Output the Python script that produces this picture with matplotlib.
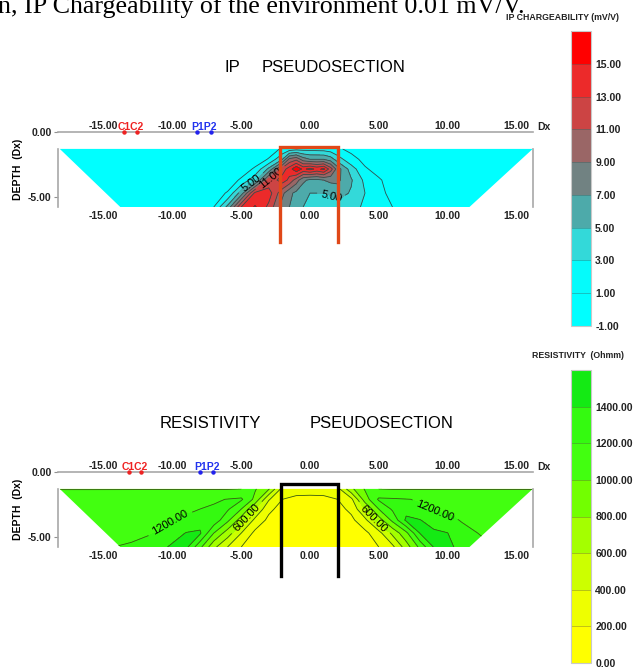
import numpy as np
import matplotlib
matplotlib.use('Agg')
import matplotlib.pyplot as plt
from matplotlib.patches import Polygon

plt.rcParams['font.family'] = ['Liberation Sans', 'DejaVu Sans']

# ---------------- data ----------------
depth_rows = [-1.3, -2.1, -2.85, -3.7, -4.7, -5.77]
section_left = [-18.2, -13.8]    # x of section edge at top / bottom row
section_right = [16.2, 11.6]

x_ticks = [-15, -10, -5, 0, 5, 10, 15]
y_ticks = [0, -5]

# IP chargeability (mV/V)
ip_x = [-19, -15, -11, -8, -7, -6, -5, -4, -3, -2, -1.5, -1, -0.5, 0, 0.5, 1, 1.5, 2, 3, 4, 5, 6, 7, 9, 13, 17]
ip_r1 = [0, 0, 0, 0, 0, 0, 0, 0, 0.3, 1.2, 1.8, 2.2, 2.2, 2.3, 2.2, 2.1, 1.8, 1.3, 0.5, 0.1, 0, 0, 0, 0, 0, 0]
ip_r2 = [0, 0, 0, 0, 0, 0, 0, 0.3, 1.1, 5, 9.5, 10.5, 8, 7, 7, 7, 6, 4, 1.6, 0.5, 0.2, 0, 0, 0, 0, 0]
ip_r3 = [0, 0, 0, 0, 0, 0, 0.3, 1.2, 5.5, 12, 14, 16.6, 14.5, 15.6, 14.5, 15.4, 12, 8, 4, 1.2, 0.4, 0, 0, 0, 0, 0]
ip_r4 = [0, 0, 0, 0, 0, 0.3, 1.2, 4.5, 11.5, 14, 12.5, 10, 7.5, 6.5, 6.5, 7, 7.5, 7.5, 5.2, 2.5, 1.2, 0.3, 0, 0, 0, 0]
ip_r5 = [0, 0, 0, 0, 0.5, 1.1, 6, 13.5, 14, 9.5, 7.5, 6.5, 5.5, 5, 5, 5, 5.2, 5.8, 4.8, 3, 1.5, 0.5, 0, 0, 0, 0]
ip_r6 = [0, 0, 0, 0.2, 1, 5.5, 13, 15.2, 12.5, 8, 7, 6, 5, 4.5, 4, 4, 4, 4.2, 3.8, 2.6, 1.8, 1, 0.3, 0, 0, 0]
ip_levels = [-1, 1, 3, 5, 7, 9, 11, 13, 15, 17]
ip_ticks = [-1, 1, 3, 5, 7, 9, 11, 13, 15]
ip_colors = ['#00ffff', '#05fbfb', '#33d9d9', '#4daaaa', '#718282', '#9a6666',
             '#cc4444', '#ec2a2a', '#ff0000']

# Resistivity (Ohmm)
res_x = [-19, -16, -13, -11, -10, -9, -8, -7, -6, -5, -4, -3, -2, -1, 0, 1, 2, 3, 4, 5, 6, 7, 8, 9, 10, 11, 13, 17]
res_r1 = [990, 990, 990, 990, 990, 990, 990, 990, 990, 1000, 1020, 820, 330, 310, 310, 310, 330, 750, 1020, 1000, 990, 990, 990, 990, 990, 990, 990, 990]
res_r2 = [1130, 1130, 1140, 1150, 1155, 1160, 1170, 1180, 1205, 1230, 950, 420, 200, 140, 130, 140, 200, 350, 900, 1230, 1220, 1205, 1190, 1180, 1175, 1170, 1150, 1140]
res_r3 = [1140, 1140, 1150, 1160, 1170, 1180, 1200, 1220, 1230, 1000, 600, 250, 120, 100, 100, 100, 130, 250, 600, 1000, 1230, 1330, 1215, 1185, 1180, 1175, 1160, 1150]
res_r4 = [1150, 1150, 1160, 1180, 1200, 1220, 1300, 1330, 1050, 700, 350, 150, 80, 60, 60, 60, 80, 150, 350, 700, 1050, 1440, 1410, 1280, 1225, 1195, 1170, 1150]
res_r5 = [1160, 1160, 1170, 1205, 1300, 1410, 1430, 1000, 700, 400, 150, 60, 40, 30, 30, 30, 40, 60, 150, 330, 650, 950, 1410, 1450, 1405, 1230, 1180, 1160]
res_r6 = [1170, 1180, 1215, 1330, 1440, 1450, 1050, 650, 400, 200, 80, 40, 30, 20, 20, 20, 30, 50, 100, 200, 350, 700, 1050, 1410, 1460, 1330, 1210, 1190]
res_levels = [0, 200, 400, 600, 800, 1000, 1200, 1400, 1600]
res_ticks = [0, 200, 400, 600, 800, 1000, 1200, 1400]
res_colors = ['#ffff00', '#eeff00', '#ccff00', '#a4ff00', '#72ff00', '#42ff10',
              '#34fa10', '#14ea14']

# electrodes and body outline
ip_c_x = [-13.5, -12.6]
ip_p_x = [-8.2, -7.2]
res_c_x = [-13.2, -12.3]
res_p_x = [-8.0, -7.05]
ip_body_x = [-2.2, 2.05]
ip_body_z = [-1.15, -8.5]
res_body_x = [-2.1, 2.05]
res_body_z = [-0.92, -8.0]

# ---------------- figure ----------------
W, H = 638, 671
fig = plt.figure(figsize=(W / 100, H / 100), dpi=100)

fig.text(-2 / W, 1 - 13 / H, 'n, IP Chargeability of the environment 0.01 mV/V.',
         family='Liberation Serif', fontsize=18.7, ha='left', va='baseline')


def section(ax, xs, rows, levels, colors, line_color, c_x, p_x, body_x, body_z, body_color):
    V = np.array(rows, dtype=float)
    Z = np.array(depth_rows)
    X = np.array(xs, dtype=float)
    poly = Polygon([(section_left[0], depth_rows[0]), (section_right[0], depth_rows[0]),
                    (section_right[1], depth_rows[-1]), (section_left[1], depth_rows[-1])],
                   closed=True, transform=ax.transData, facecolor='none', edgecolor='none')
    ax.add_patch(poly)
    cf = ax.contourf(X, Z, V, levels=levels, colors=colors)
    cf.set_clip_path(poly)
    lines = {}
    for lv in levels[1:-1]:
        if V.min() < lv < V.max():
            cl = ax.contour(X, Z, V, levels=[lv], colors=line_color, linewidths=0.6)
            cl.set_clip_path(poly)
            lines[lv] = cl
    ax.set_xlim(-18.33, 16.22)
    ax.set_ylim(depth_rows[-1], 0)
    labels = ['%.2f' % t for t in x_ticks]
    ax.set_xticks(x_ticks)
    ax.set_xticklabels(labels)
    ax.tick_params(axis='x', top=False, bottom=False, labeltop=False, labelbottom=True,
                   length=0, labelsize=7.5, pad=3)
    sec = ax.secondary_xaxis('top')
    sec.set_xticks(x_ticks)
    sec.set_xticklabels(labels)
    sec.tick_params(length=0, labelsize=7.5, pad=0.6)
    for s in sec.spines.values():
        s.set_visible(False)
    ax.set_yticks(y_ticks)
    ax.set_yticklabels(['%.2f' % t for t in y_ticks])
    ax.tick_params(axis='y', length=3, width=0.8, color='#909090', labelsize=7.5, pad=1.5)
    for lab in ax.get_xticklabels() + ax.get_yticklabels() + sec.get_xticklabels():
        lab.set_fontweight('bold')
        lab.set_color('#222222')
    for s in ['top', 'left', 'right']:
        ax.spines[s].set_color('#a8a8a8')
        ax.spines[s].set_linewidth(1.2)
    ax.spines['bottom'].set_visible(False)
    ax.spines['left'].set_bounds(depth_rows[-1], depth_rows[0])
    ax.spines['right'].set_bounds(depth_rows[-1], depth_rows[0])
    ax.set_ylabel('DEPTH  (Dx)', fontsize=7.5, fontweight='bold', labelpad=4)
    ax.text(16.55, 0.36, 'Dx', fontsize=7.5, fontweight='bold', ha='left', va='center',
            clip_on=False, color='#222222')
    # electrodes
    ax.plot(c_x, [0, 0], 'o', color='#ee2222', ms=2.2, clip_on=False, zorder=6)
    ax.plot(p_x, [0, 0], 'o', color='#2222ee', ms=2.2, clip_on=False, zorder=6)
    ax.text(np.mean(c_x), 0.36, 'C1C2', color='#ee2222', fontsize=7.5, fontweight='bold',
            ha='center', va='center', clip_on=False)
    ax.text(np.mean(p_x), 0.36, 'P1P2', color='#2233ee', fontsize=7.5, fontweight='bold',
            ha='center', va='center', clip_on=False)
    # body outline
    ax.plot([body_x[0], body_x[0], body_x[1], body_x[1]],
            [body_z[1], body_z[0], body_z[0], body_z[1]],
            color=body_color, lw=2.4, clip_on=False, zorder=7, solid_joinstyle='miter')
    return cf, lines


def label(ax, lines, lv, positions):
    if lv in lines:
        ax.clabel(lines[lv], manual=positions, fmt='%.2f', fontsize=8,
                  colors='black', inline=True)


def colorbar(cf, rect, levels, ticks, title, title_xy):
    cax = fig.add_axes(rect)
    cb = fig.colorbar(cf, cax=cax, ticks=ticks)
    cb.set_ticklabels(['%.2f' % t for t in ticks])
    cax.tick_params(length=0, labelsize=7.5, pad=3)
    for lab in cax.get_yticklabels():
        lab.set_fontweight('bold')
        lab.set_color('#222222')
    cb.outline.set_edgecolor('#c8c8c8')
    cb.outline.set_linewidth(0.8)
    for lv in levels[1:-1]:
        cax.axhline(lv, color='#404040', lw=0.5, alpha=0.45)
    fig.text(title_xy[0] / W, 1 - title_xy[1] / H, title, fontsize=6.3, fontweight='bold',
             ha='center', va='center', color='#222222')


ax_ip = fig.add_axes([58 / W, 1 - 207 / H, 475 / W, 75 / H])
ip_rows = [ip_r1, ip_r2, ip_r3, ip_r4, ip_r5, ip_r6]
cf_ip, lines_ip = section(ax_ip, ip_x, ip_rows, ip_levels, ip_colors, '#2f4f4f',
                         ip_c_x, ip_p_x, ip_body_x, ip_body_z, '#e04818')
label(ax_ip, lines_ip, 5, [(-4.3, -3.9), (1.9, -4.5)])
label(ax_ip, lines_ip, 11, [(-2.9, -3.5)])
fig.text(225 / W, 1 - 68 / H, 'IP', fontsize=12, ha='left', va='center')
fig.text(262 / W, 1 - 68 / H, 'PSEUDOSECTION', fontsize=12, ha='left', va='center')
colorbar(cf_ip, [571 / W, 1 - 326 / H, 20 / W, 295 / H], ip_levels, ip_ticks,
         'IP CHARGEABILITY (mV/V)', (562, 18))

ax_res = fig.add_axes([58 / W, 1 - 547 / H, 475 / W, 75 / H])
res_rows = [res_r1, res_r2, res_r3, res_r4, res_r5, res_r6]
cf_res, lines_res = section(ax_res, res_x, res_rows, res_levels, res_colors, '#3a5a10',
                           res_c_x, res_p_x, res_body_x, res_body_z, 'black')
label(ax_res, lines_res, 1200, [(-10.2, -3.9), (9.0, -3.25)])
label(ax_res, lines_res, 600, [(-4.5, -3.6), (4.6, -3.6)])
fig.text(160 / W, 1 - 423 / H, 'RESISTIVITY', fontsize=12, ha='left', va='center')
fig.text(310 / W, 1 - 423 / H, 'PSEUDOSECTION', fontsize=12, ha='left', va='center')
colorbar(cf_res, [571 / W, 1 - 663 / H, 20 / W, 293 / H], res_levels, res_ticks,
         'RESISTIVITY  (Ohmm)', (578, 355))

fig.savefig('out.png', dpi=100)
